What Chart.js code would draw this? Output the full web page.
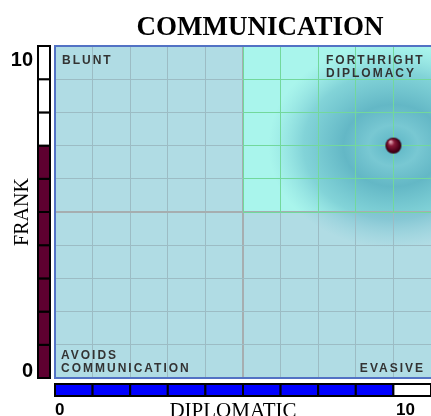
<!doctype html>
<html>
<head>
<meta charset="utf-8">
<title>Communication</title>
<script src="https://cdn.jsdelivr.net/npm/chart.js@4/dist/chart.umd.min.js"></script>
<style>
  body { margin: 0; background: #fff; }
  canvas { display: block; }
</style>
</head>
<body>
<canvas id="commChart" width="431" height="416"></canvas>
<script>
// data
var axisMin = 0;
var axisMax = 10;
var frankScore = 7;        // left bar, filled segments
var diplomaticScore = 9;   // bottom bar, filled segments
var points = [{ x: 9, y: 7 }];
var quadrantLabels = ['BLUNT', 'FORTHRIGHT|DIPLOMACY', 'AVOIDS|COMMUNICATION', 'EVASIVE'];
var tickLabels = ['0', '10'];
var titleText = 'COMMUNICATION';
var xTitle = 'DIPLOMATIC';
var yTitle = 'FRANK';

var lightBlue = '#b0dce4';
var aqua = '#a9f5ec';
var grayLine = '#9cbcc4';
var greenLine = '#72d89c';
var borderBlue = '#5272c4';

// little shaded ball used as the point
function makeBall(r) {
  var c = document.createElement('canvas');
  c.width = r * 2 + 2; c.height = r * 2 + 2;
  var g = c.getContext('2d');
  var grad = g.createRadialGradient(r - 2, r - 3, 1, r + 1, r + 1, r);
  grad.addColorStop(0, '#d9a0ae');
  grad.addColorStop(0.3, '#8a1a38');
  grad.addColorStop(0.8, '#4a0018');
  grad.addColorStop(1, '#300010');
  g.fillStyle = grad;
  g.beginPath();
  g.arc(r + 1, r + 1, r, 0, Math.PI * 2);
  g.fill();
  return c;
}

// same pixel snapping chart.js uses for 1px grid lines
function snap(p) { return Math.round(p + 0.5) - 0.5; }

var backdrop = {
  id: 'backdrop',
  beforeDraw: function(chart) {
    var ctx = chart.ctx, a = chart.chartArea;
    var xs = chart.scales.x, ys = chart.scales.y;
    var mx = xs.getPixelForValue(5), my = ys.getPixelForValue(5);
    ctx.save();
    ctx.fillStyle = lightBlue;
    ctx.fillRect(a.left, a.top, a.right - a.left, a.bottom - a.top);
    ctx.fillStyle = aqua;
    ctx.fillRect(mx, a.top, a.right - mx, my - a.top);

    // cloud round the point
    var px = xs.getPixelForValue(points[0].x), py = ys.getPixelForValue(points[0].y);
    ctx.beginPath();
    ctx.rect(a.left, a.top, a.right - a.left, a.bottom - a.top);
    ctx.clip();
    ctx.translate(px, py);
    ctx.scale(1, 0.82);
    var g = ctx.createRadialGradient(0, 0, 0, 0, 0, 125);
    g.addColorStop(0, 'rgba(78,170,190,0.85)');
    g.addColorStop(0.2, 'rgba(112,192,206,0.85)');
    g.addColorStop(0.4, 'rgba(82,168,188,0.8)');
    g.addColorStop(0.72, 'rgba(92,178,196,0.5)');
    g.addColorStop(1, 'rgba(120,200,212,0)');
    ctx.fillStyle = g;
    ctx.beginPath();
    ctx.arc(0, 0, 125, 0, Math.PI * 2);
    ctx.fill();
    ctx.restore();
  },
  beforeDatasetsDraw: function(chart) {
    var ctx = chart.ctx, a = chart.chartArea;
    var xs = chart.scales.x, ys = chart.scales.y;
    var mx = xs.getPixelForValue(5), my = ys.getPixelForValue(5);
    ctx.save();
    ctx.strokeStyle = greenLine;
    ctx.lineWidth = 1;
    for (var v = 5; v <= 9; v++) {
      var x = snap(xs.getPixelForValue(v));
      ctx.beginPath(); ctx.moveTo(x, a.top); ctx.lineTo(x, my); ctx.stroke();
      var y = snap(ys.getPixelForValue(v));
      ctx.beginPath(); ctx.moveTo(mx, y); ctx.lineTo(a.right, y); ctx.stroke();
    }
    // plot frame
    ctx.strokeStyle = borderBlue;
    ctx.lineWidth = 2;
    ctx.beginPath();
    ctx.moveTo(a.right, a.top); ctx.lineTo(a.left, a.top);
    ctx.lineTo(a.left, a.bottom); ctx.lineTo(a.right, a.bottom);
    ctx.stroke();
    ctx.restore();
  },
  afterDraw: function(chart) {
    var ctx = chart.ctx, a = chart.chartArea;
    var xs = chart.scales.x, ys = chart.scales.y;
    ctx.save();

    // FRANK bar on the left
    ctx.lineWidth = 2;
    ctx.strokeStyle = '#000';
    for (var i = axisMin; i < axisMax; i++) {
      var y0 = ys.getPixelForValue(i + 1), y1 = ys.getPixelForValue(i);
      ctx.fillStyle = i < frankScore ? '#5e0030' : '#ffffff';
      ctx.fillRect(38, y0, 12, y1 - y0);
      ctx.strokeRect(38, y0, 12, y1 - y0);
    }
    // DIPLOMATIC bar at the bottom
    for (var j = axisMin; j < axisMax; j++) {
      var x0 = xs.getPixelForValue(j), x1 = xs.getPixelForValue(j + 1);
      ctx.fillStyle = j < diplomaticScore ? '#0000ff' : '#ffffff';
      ctx.fillRect(x0, a.bottom + 6, x1 - x0, 12);
      ctx.strokeRect(x0, a.bottom + 6, x1 - x0, 12);
    }

    // quadrant labels
    ctx.fillStyle = '#333333';
    ctx.font = 'bold 12px "Liberation Sans", Arial, sans-serif';
    ctx.letterSpacing = '2px';
    ctx.textBaseline = 'alphabetic';
    function lines(txt, x, y, align) {
      var parts = txt.split('|');
      ctx.textAlign = align;
      for (var k = 0; k < parts.length; k++) {
        ctx.fillText(parts[k], x, y + k * 13);
      }
    }
    lines(quadrantLabels[0], a.left + 7, a.top + 18, 'left');
    lines(quadrantLabels[1], 326, a.top + 18, 'left');
    lines(quadrantLabels[2], a.left + 6, a.bottom - 19, 'left');
    lines(quadrantLabels[3], a.right - 6, a.bottom - 6, 'right');
    ctx.letterSpacing = '0px';

    // tick numbers
    ctx.fillStyle = '#000';
    ctx.font = 'bold 20px "Liberation Sans", Arial, sans-serif';
    ctx.textAlign = 'right';
    ctx.fillText(tickLabels[1], 33, ys.getPixelForValue(axisMax) + 20);
    ctx.fillText(tickLabels[0], 33, ys.getPixelForValue(axisMin) - 1);
    ctx.font = 'bold 17px "Liberation Sans", Arial, sans-serif';
    ctx.textAlign = 'left';
    ctx.fillText(tickLabels[0], xs.getPixelForValue(axisMin), 415);
    ctx.fillText(tickLabels[1], 396, 415);

    // titles
    ctx.font = '21px "Liberation Serif", "Times New Roman", serif';
    ctx.textAlign = 'center';
    ctx.fillText(xTitle, 233, 417);
    ctx.font = 'bold 27px "Liberation Serif", "Times New Roman", serif';
    ctx.fillText(titleText, 260, 35);

    ctx.translate(28, (a.top + a.bottom) / 2);
    ctx.rotate(-Math.PI / 2);
    ctx.font = '20px "Liberation Serif", "Times New Roman", serif';
    ctx.fillText(yTitle, 0, 0);
    ctx.restore();
  }
};

function gridColor(ctx) {
  var v = ctx.tick.value;
  if (v === axisMin || v === axisMax) return 'rgba(0,0,0,0)';
  if (v === 5) return '#a6aeb0';
  return grayLine;
}

new Chart(document.getElementById('commChart'), {
  type: 'scatter',
  data: {
    datasets: [{
      label: 'score',
      data: points,
      pointStyle: makeBall(8),
      pointRadius: 8,
      pointHoverRadius: 8
    }]
  },
  options: {
    responsive: false,
    animation: false,
    layout: { autoPadding: false, padding: { left: 55, top: 46, right: 0, bottom: 38 } },
    plugins: { legend: { display: false }, tooltip: { enabled: false }, title: { display: false } },
    scales: {
      x: {
        min: axisMin, max: axisMax,
        ticks: { display: false, stepSize: 1 },
        grid: { color: gridColor, lineWidth: function(c) { return c.tick.value === 5 ? 2 : 1; }, drawTicks: false },
        border: { display: false }
      },
      y: {
        min: axisMin, max: axisMax,
        ticks: { display: false, stepSize: 1 },
        grid: { color: gridColor, lineWidth: function(c) { return c.tick.value === 5 ? 2 : 1; }, drawTicks: false },
        border: { display: false }
      }
    }
  },
  plugins: [backdrop]
});
</script>
</body>
</html>
